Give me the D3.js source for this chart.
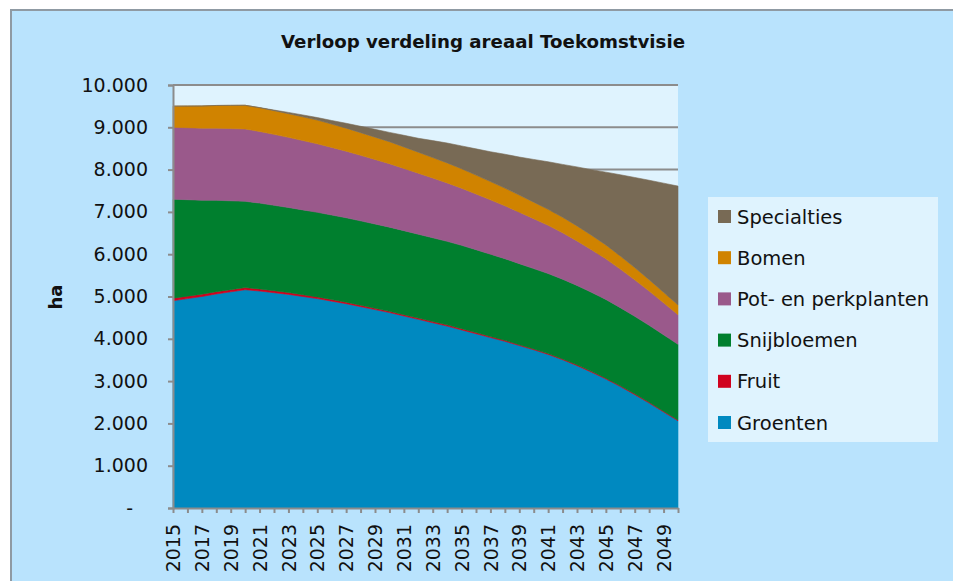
<!DOCTYPE html>
<html>
<head>
<meta charset="utf-8">
<script src="https://cdn.jsdelivr.net/npm/d3@7"></script>
<style>
  body { margin: 0; background: #fff; }
  svg { display: block; font-family: "DejaVu Sans", sans-serif; }
</style>
</head>
<body>
<div id="chart"></div>
<script>
// years on the x axis
const years = [2015, 2016, 2017, 2018, 2019, 2020, 2021, 2022, 2023, 2024,
    2025, 2026, 2027, 2028, 2029, 2030, 2031, 2032, 2033, 2034,
    2035, 2036, 2037, 2038, 2039, 2040, 2041, 2042, 2043, 2044,
    2045, 2046, 2047, 2048, 2049, 2050];

// area per sector (ha)
const groenten = [4900, 4950, 5000, 5060, 5110, 5160, 5130, 5090, 5050, 5000,
    4950, 4890, 4830, 4760, 4690, 4620, 4540, 4460, 4380, 4300,
    4210, 4120, 4030, 3940, 3840, 3740, 3630, 3505, 3365, 3210,
    3050, 2870, 2680, 2480, 2270, 2060];
const fruit = [60, 58, 56, 54, 52, 50, 48, 46, 44, 42,
    40, 38, 36, 34, 32, 30, 30, 30, 30, 30,
    30, 28, 26, 24, 22, 20, 20, 20, 20, 20,
    20, 20, 20, 20, 20, 20];
const snijbloemen = [2340, 2280, 2220, 2160, 2100, 2040, 2030, 2020, 2010, 2005,
    2000, 1998, 1996, 1994, 1992, 1990, 1986, 1982, 1978, 1974,
    1970, 1958, 1944, 1930, 1915, 1900, 1892, 1884, 1876, 1868,
    1860, 1846, 1832, 1818, 1804, 1790];
const potPerk = [1700, 1702, 1704, 1706, 1708, 1710, 1694, 1677, 1658, 1640,
    1620, 1598, 1574, 1550, 1525, 1500, 1472, 1443, 1413, 1382,
    1350, 1318, 1285, 1251, 1216, 1180, 1140, 1098, 1054, 1008,
    960, 912, 862, 810, 756, 700];
const bomen = [500, 512, 524, 536, 548, 560, 560, 560, 560, 560,
    560, 552, 544, 536, 528, 520, 508, 496, 484, 472,
    460, 446, 432, 418, 404, 390, 378, 366, 354, 342,
    330, 310, 290, 270, 250, 230];
const specialties = [0, 0, 0, 0, 0, 0, 5, 15, 30, 45,
    60, 85, 115, 150, 185, 220, 275, 330, 400, 470,
    540, 620, 705, 800, 900, 1010, 1125, 1250, 1395, 1550,
    1720, 1920, 2130, 2350, 2580, 2810];

const seriesNames = ["Groenten", "Fruit", "Snijbloemen", "Pot- en perkplanten", "Bomen", "Specialties"];
const seriesColors = ["#0089c0", "#d0021f", "#007f2e", "#9a598b", "#d08300", "#786a55"];
const seriesValues = [groenten, fruit, snijbloemen, potPerk, bomen, specialties];
const yTicks = [0, 1000, 2000, 3000, 4000, 5000, 6000, 7000, 8000, 9000, 10000];

const W = 953, H = 581;
const margin = {top: 85, right: 275, bottom: 73, left: 173};

const table = years.map((yr, i) => {
    const row = {year: yr};
    seriesNames.forEach((name, s) => { row[name] = seriesValues[s][i]; });
    return row;
});

const svg = d3.select("#chart").append("svg")
    .attr("width", W)
    .attr("height", H);

// chart background with border
svg.append("rect")
    .attr("x", 11).attr("y", 10)
    .attr("width", W + 20).attr("height", H + 20)
    .attr("fill", "#b9e3fd")
    .attr("stroke", "#8f9aa3")
    .attr("stroke-width", 2);

svg.append("text")
    .attr("x", 483).attr("y", 48)
    .attr("text-anchor", "middle")
    .attr("font-size", 17)
    .attr("font-weight", "bold")
    .attr("textLength", 404)
    .attr("lengthAdjust", "spacingAndGlyphs")
    .attr("fill", "#111")
    .text("Verloop verdeling areaal Toekomstvisie");

const x = d3.scalePoint()
    .domain(years)
    .range([margin.left, W - margin.right]);

const y = d3.scaleLinear()
    .domain([0, 10000])
    .range([H - margin.bottom, margin.top]);

// plot area
svg.append("rect")
    .attr("x", margin.left).attr("y", margin.top)
    .attr("width", (W - margin.right) - margin.left)
    .attr("height", (H - margin.bottom) - margin.top)
    .attr("fill", "#dff3fe");

// gridlines
svg.append("g")
    .selectAll("line")
    .data(yTicks.filter(d => d > 0))
    .join("line")
    .attr("x1", margin.left).attr("x2", W - margin.right)
    .attr("y1", d => y(d)).attr("y2", d => y(d))
    .attr("stroke", "#8c8c8c")
    .attr("stroke-width", 2);

// stacked areas
const stack = d3.stack().keys(seriesNames);
const layers = stack(table);

const area = d3.area()
    .x(d => x(d.data.year))
    .y0(d => y(d[0]))
    .y1(d => y(d[1]));

svg.append("g")
    .selectAll("path")
    .data(layers)
    .join("path")
    .attr("fill", (d, i) => seriesColors[i])
    .attr("stroke", (d, i) => seriesColors[i])
    .attr("stroke-width", 0.6)
    .attr("d", area);

// y axis
const fmt = v => v === 0 ? "-" : d3.format(",")(v).replace(/,/g, ".");
const yAxis = svg.append("g")
    .attr("transform", `translate(${margin.left},0)`)
    .call(d3.axisLeft(y).tickValues(yTicks).tickFormat(fmt).tickSize(5).tickPadding(20));
yAxis.select(".domain").attr("stroke", "#8c8c8c").attr("stroke-width", 2);
yAxis.selectAll(".tick line").attr("stroke", "#8c8c8c").attr("stroke-width", 2);
yAxis.selectAll(".tick text")
    .attr("font-size", 19)
    .attr("font-family", "DejaVu Sans")
    .attr("fill", "#111");
yAxis.selectAll(".tick text").filter(d => d === 0).attr("dx", -15);

// x axis
const xAxis = svg.append("g")
    .attr("transform", `translate(0,${H - margin.bottom})`)
    .call(d3.axisBottom(x).tickSize(5).tickSizeOuter(0)
        .tickFormat(d => (d - 2015) % 2 === 0 ? d : ""));
xAxis.select(".domain").attr("stroke", "#8c8c8c").attr("stroke-width", 2);
xAxis.selectAll(".tick line").attr("stroke", "#8c8c8c").attr("stroke-width", 2);
xAxis.selectAll(".tick text")
    .attr("font-size", 19)
    .attr("font-family", "DejaVu Sans")
    .attr("fill", "#111")
    .attr("transform", "rotate(-90)")
    .attr("x", -16)
    .attr("y", 0)
    .attr("dy", "0.35em")
    .style("text-anchor", "end");

// y axis title
svg.append("text")
    .attr("transform", "translate(62,297) rotate(-90)")
    .attr("text-anchor", "middle")
    .attr("font-size", 18)
    .attr("font-weight", "bold")
    .attr("fill", "#111")
    .text("ha");

// legend
const legend = svg.append("g");
legend.append("rect")
    .attr("x", 708).attr("y", 197)
    .attr("width", 230).attr("height", 245)
    .attr("fill", "#dff3fe");

const legendOrder = seriesNames.map((n, i) => i).reverse();
const item = legend.selectAll("g.item")
    .data(legendOrder)
    .join("g")
    .attr("class", "item")
    .attr("transform", (d, k) => `translate(718,${216.5 + k * 41.2})`);
item.append("rect")
    .attr("x", 0).attr("y", -6.5)
    .attr("width", 13).attr("height", 13)
    .attr("fill", d => seriesColors[d]);
item.append("text")
    .attr("x", 19).attr("y", 7)
    .attr("font-size", 19.5)
    .attr("fill", "#111")
    .text(d => seriesNames[d]);
</script>
</body>
</html>
